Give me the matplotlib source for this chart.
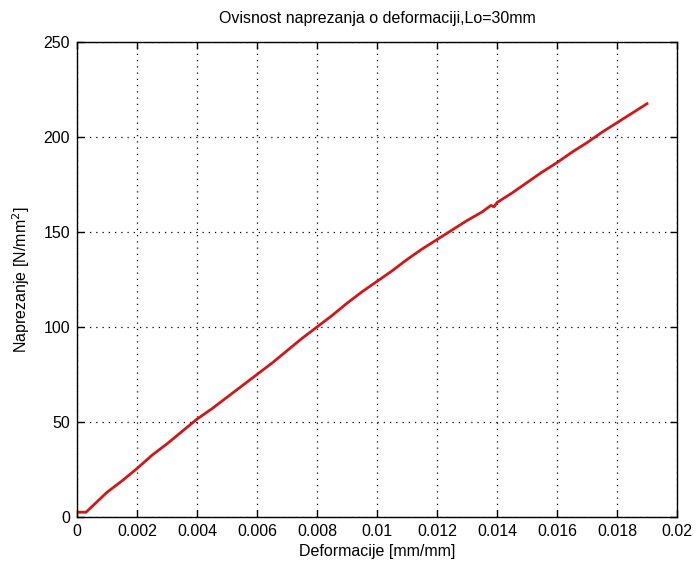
import matplotlib
matplotlib.use("Agg")
import matplotlib.pyplot as plt
from matplotlib.ticker import FixedLocator, FixedFormatter

# Stress-strain measurements for the Lo = 30 mm specimen
strain = [0.0, 0.0003, 0.0005, 0.001, 0.0015, 0.002, 0.0025, 0.003, 0.0035,
          0.004, 0.0045, 0.005, 0.0055, 0.006, 0.0065, 0.007, 0.0075, 0.008,
          0.0085, 0.009, 0.0095, 0.010, 0.0105, 0.011, 0.0115, 0.012, 0.0125,
          0.013, 0.0135, 0.0138, 0.0139, 0.014, 0.0145, 0.015, 0.0155, 0.016,
          0.0165, 0.017, 0.0175, 0.018, 0.0185, 0.019]
stress = [2.5, 2.5, 5.5, 13.0, 19.0, 25.5, 32.5, 38.5, 45.0,
          51.5, 57.0, 63.0, 69.0, 75.0, 81.0, 87.5, 94.0, 100.0,
          106.0, 112.5, 118.5, 124.0, 129.5, 135.5, 141.0, 146.0, 151.0,
          156.0, 160.5, 164.0, 163.2, 165.5, 170.5, 176.0, 181.5, 186.5,
          192.0, 197.0, 202.5, 207.5, 212.5, 217.5]

x_ticks = [0, 0.002, 0.004, 0.006, 0.008, 0.01, 0.012, 0.014, 0.016, 0.018, 0.02]
x_labels = ["0", "0.002", "0.004", "0.006", "0.008", "0.01", "0.012",
            "0.014", "0.016", "0.018", "0.02"]
y_ticks = [0, 50, 100, 150, 200, 250]
y_labels = ["0", "50", "100", "150", "200", "250"]

plt.rcParams['font.family'] = ['Liberation Sans Narrow', 'Liberation Sans', 'DejaVu Sans']

fig = plt.figure(figsize=(6.97, 5.65), dpi=100)
ax = fig.add_axes([0.1105, 0.085, 0.8608, 0.8407])

ax.plot(strain, stress, color='#d01818', lw=2.0, solid_joinstyle='round')

ax.set_xlim(0, 0.02)
ax.set_ylim(0, 250)
ax.xaxis.set_major_locator(FixedLocator(x_ticks))
ax.xaxis.set_major_formatter(FixedFormatter(x_labels))
ax.yaxis.set_major_locator(FixedLocator(y_ticks))
ax.yaxis.set_major_formatter(FixedFormatter(y_labels))

ax.grid(True, color='black', linestyle=(0, (1, 4)), lw=0.9)
ax.set_axisbelow(True)
ax.tick_params(direction='in', length=5, width=1, top=True, right=True,
               labelsize=11.5, colors='black', pad=5)
for s in ax.spines.values():
    s.set_linewidth(1.0)
    s.set_color('black')

ax.set_title("Ovisnost naprezanja o deformaciji,Lo=30mm", fontsize=11.5, pad=14)
ax.set_xlabel("Deformacije [mm/mm]", fontsize=11.5, labelpad=4)
ax.set_ylabel("Naprezanje [N/mm$^2$]", fontsize=11.5, labelpad=8)

fig.savefig("out.png", dpi=100)
